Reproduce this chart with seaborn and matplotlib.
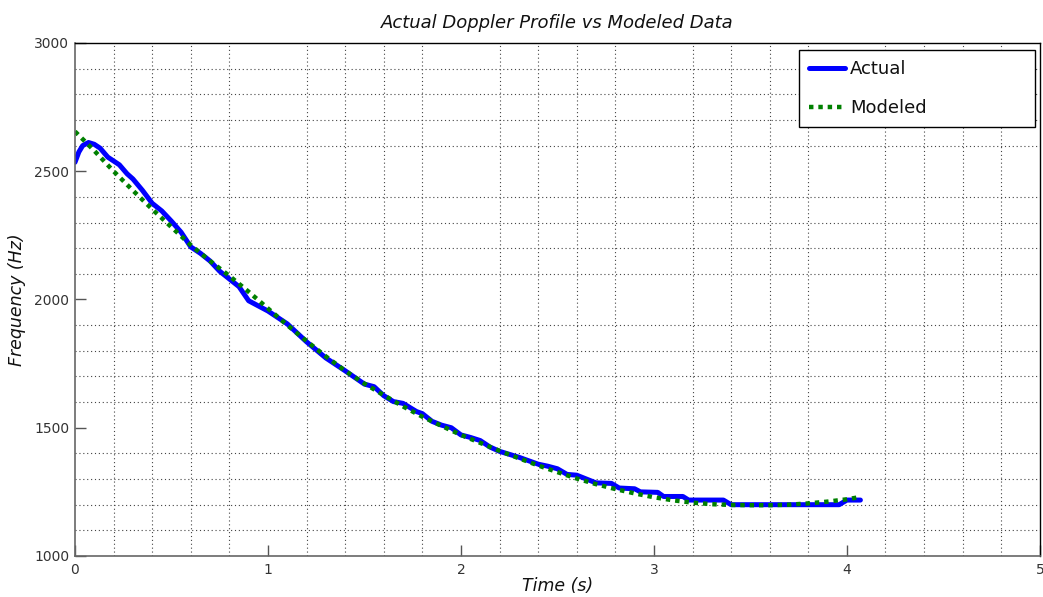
import numpy as np
import pandas as pd
import matplotlib
matplotlib.use("Agg")
import matplotlib.pyplot as plt
import seaborn as sns
from matplotlib.ticker import MultipleLocator

# Actual Doppler profile
actual_t = [0.0, 0.02, 0.04, 0.07, 0.10, 0.13, 0.17, 0.20, 0.23, 0.27, 0.30, 0.35, 0.40,
            0.45, 0.50, 0.55, 0.60, 0.65, 0.70, 0.75, 0.80, 0.85, 0.90, 1.00, 1.10,
            1.20, 1.30, 1.40, 1.50, 1.55, 1.60, 1.65, 1.70, 1.77, 1.80, 1.85, 1.90,
            1.95, 2.00, 2.05, 2.10, 2.15, 2.20, 2.30, 2.40, 2.45, 2.50, 2.55, 2.60,
            2.65, 2.70, 2.78, 2.82, 2.90, 2.93, 3.02, 3.05, 3.15, 3.18, 3.36, 3.40,
            3.96, 4.00, 4.07]
actual_f = [2535, 2575, 2600, 2612, 2605, 2590, 2555, 2540, 2525, 2490, 2470, 2425, 2375,
            2345, 2305, 2262, 2205, 2180, 2150, 2110, 2080, 2050, 1995, 1955, 1905,
            1835, 1772, 1722, 1670, 1660, 1625, 1602, 1595, 1563, 1555, 1525, 1510,
            1500, 1472, 1462, 1450, 1425, 1408, 1385, 1358, 1350, 1340, 1318, 1315,
            1300, 1285, 1283, 1265, 1262, 1250, 1248, 1232, 1232, 1218, 1218, 1200,
            1200, 1218, 1218]

# Modeled profile
model_t = [0.0, 0.1, 0.2, 0.3, 0.4, 0.5, 0.6, 0.7, 0.8, 0.9, 1.0, 1.1, 1.2, 1.3, 1.4,
           1.5, 1.6, 1.7, 1.8, 1.9, 2.0, 2.1, 2.2, 2.3, 2.4, 2.5, 2.6, 2.7, 2.8, 2.9,
           3.0, 3.1, 3.2, 3.3, 3.4, 3.5, 3.6, 3.7, 3.8, 3.9, 4.0, 4.07]
model_f = [2655, 2580, 2500, 2425, 2352, 2282, 2212, 2150, 2092, 2030, 1965, 1900, 1838,
           1778, 1722, 1672, 1627, 1583, 1543, 1507, 1472, 1441, 1410, 1381, 1353,
           1327, 1302, 1280, 1261, 1244, 1229, 1217, 1208, 1202, 1199, 1198, 1198,
           1200, 1205, 1212, 1221, 1230]

labels = ["Actual", "Modeled"]

sns.set_theme(style="white")
plt.rcParams['font.family'] = ['DejaVu Sans']

fig = plt.figure(figsize=(10.43, 5.97), dpi=100)
ax = fig.add_axes([0.0719, 0.0687, 0.9251, 0.8593])

df_a = pd.DataFrame({"t": actual_t, "f": actual_f})
df_m = pd.DataFrame({"t": model_t, "f": model_f})

sns.lineplot(data=df_a, x="t", y="f", ax=ax, color="#0000ff", linewidth=3.6,
             label=labels[0], sort=False)
sns.lineplot(data=df_m, x="t", y="f", ax=ax, color="#008000", linewidth=3.2,
             linestyle=(0, (1, 1.1)), label=labels[1], sort=False)

ax.set_xlim(0, 5)
ax.set_ylim(1000, 3000)
ax.xaxis.set_major_locator(MultipleLocator(1))
ax.yaxis.set_major_locator(MultipleLocator(500))
ax.xaxis.set_minor_locator(MultipleLocator(0.2))
ax.yaxis.set_minor_locator(MultipleLocator(100))
ax.grid(False, which="major")
ax.grid(True, which="minor", linestyle=(0, (1, 2.5)), color="#444444", linewidth=0.8)
ax.tick_params(which="major", direction="in", length=8, width=1, color="#555555",
               labelsize=10, labelcolor="#333333", top=False, right=False,
               bottom=True, left=True)
ax.tick_params(axis="x", which="major", pad=5)
ax.tick_params(axis="y", which="major", pad=4)
ax.tick_params(which="minor", length=0)

for s in ["left", "bottom"]:
    ax.spines[s].set_color("#666666")
    ax.spines[s].set_linewidth(1.2)
for s in ["top", "right"]:
    ax.spines[s].set_color("#000000")
    ax.spines[s].set_linewidth(1.0)

ax.set_title("Actual Doppler Profile vs Modeled Data", fontsize=13, style="italic",
             pad=11, color="#111111")
ax.set_xlabel("Time (s)", fontsize=12.5, style="italic", labelpad=0, color="#111111")
ax.set_ylabel("Frequency (Hz)", fontsize=12.5, style="italic", labelpad=6, color="#111111")

leg = ax.legend(loc="upper left", bbox_to_anchor=(0.750, 0.0, 0.245, 0.986),
                mode="expand", fontsize=13, frameon=True, fancybox=False,
                edgecolor="black", framealpha=1, handlelength=2.0, borderpad=0.55,
                labelspacing=1.15, handletextpad=0.3, borderaxespad=0.0)
leg.get_frame().set_linewidth(1.0)
for txt in leg.get_texts():
    txt.set_color("#111111")

fig.savefig("out.png", dpi=100)
